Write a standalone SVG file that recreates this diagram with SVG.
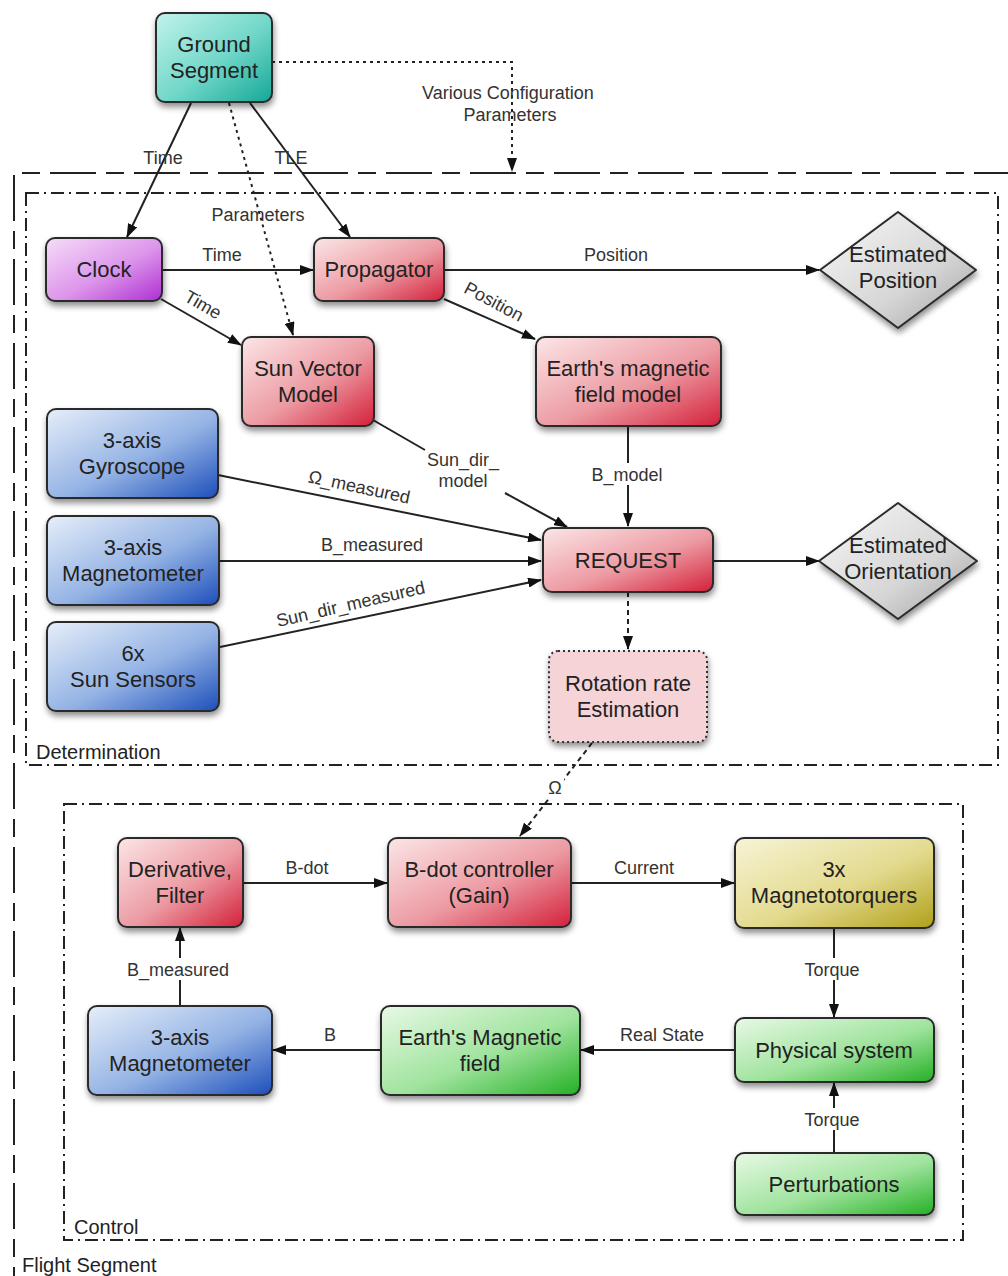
<svg xmlns="http://www.w3.org/2000/svg" width="1008" height="1276" viewBox="0 0 1008 1276">
<defs>
<linearGradient id="gTeal" x1="0" y1="0" x2="1" y2="1"><stop offset="0" stop-color="#c2f3ea"/><stop offset="0.55" stop-color="#6fd6c8"/><stop offset="1" stop-color="#14a896"/></linearGradient>
<linearGradient id="gPurple" x1="0" y1="0" x2="1" y2="1"><stop offset="0" stop-color="#f6ddf9"/><stop offset="0.55" stop-color="#dc94ea"/><stop offset="1" stop-color="#ae2fd2"/></linearGradient>
<linearGradient id="gRed" x1="0" y1="0" x2="1" y2="1"><stop offset="0" stop-color="#fbe6e7"/><stop offset="0.55" stop-color="#ec9aa2"/><stop offset="1" stop-color="#d4203a"/></linearGradient>
<linearGradient id="gBlue" x1="0" y1="0" x2="1" y2="1"><stop offset="0" stop-color="#e6eef9"/><stop offset="0.55" stop-color="#93b2e4"/><stop offset="1" stop-color="#1d4fbb"/></linearGradient>
<linearGradient id="gYellow" x1="0" y1="0" x2="1" y2="1"><stop offset="0" stop-color="#f7f4d6"/><stop offset="0.55" stop-color="#e3da8e"/><stop offset="1" stop-color="#b0a01a"/></linearGradient>
<linearGradient id="gGreen" x1="0" y1="0" x2="1" y2="1"><stop offset="0" stop-color="#e8f9e6"/><stop offset="0.55" stop-color="#9fe39d"/><stop offset="1" stop-color="#24b024"/></linearGradient>
<linearGradient id="gGrey" x1="0" y1="0" x2="1" y2="1"><stop offset="0" stop-color="#f7f7f7"/><stop offset="0.6" stop-color="#d6d6d6"/><stop offset="1" stop-color="#a0a0a0"/></linearGradient>
<filter id="shadow" x="-20%" y="-20%" width="150%" height="160%"><feDropShadow dx="1" dy="4" stdDeviation="3" flood-color="#000" flood-opacity="0.45"/></filter>
<marker id="arr" viewBox="0 0 14 10" refX="13" refY="5" markerWidth="14" markerHeight="10" markerUnits="userSpaceOnUse" orient="auto"><path d="M0,0 L14,5 L0,10 Z" fill="#111"/></marker>
<style>
.node{stroke:#2a2a2a;stroke-width:2}
.nt{font-family:"Liberation Sans",Arial,sans-serif;font-size:22px;fill:#222;text-anchor:middle}
.lb{font-family:"Liberation Sans",Arial,sans-serif;font-size:18px;fill:#333;text-anchor:middle}
.grp{font-family:"Liberation Sans",Arial,sans-serif;font-size:20px;fill:#222}
.c{stroke:#222;stroke-width:2;fill:none;marker-end:url(#arr)}
.dot{stroke-dasharray:3,4}
.dash{stroke-dasharray:5,4}
.dd{fill:none;stroke:#222;stroke-width:2;stroke-dasharray:13,5,2,5}
.bg{fill:#ffffff}
</style>
</defs>
<rect width="1008" height="1276" fill="#ffffff"/>

<g id="flight-segment">
<path d="M1020,173 L14,173 L14,1277 L1020,1277" fill="none" stroke="#222" stroke-width="2" stroke-dasharray="46,10,18,10"/>
<text class="grp" x="22" y="1272">Flight Segment</text>
</g>
<g id="determination">
<rect x="26" y="193" width="972" height="572" class="dd"/>
<text class="grp" x="36" y="759">Determination</text>
</g>
<g id="control">
<rect x="64" y="804" width="899" height="436" class="dd"/>
<text class="grp" x="74" y="1234">Control</text>
</g>

<g id="connectors">
<path class="c dot" d="M272,62 L512,62 L512,171"/>
<path class="c" d="M191,103 L127,237"/>
<path class="c" d="M250,103 L350,237"/>
<path class="c dot" d="M229,103 L293,335"/>
<path class="c" d="M162,270 L313,270"/>
<path class="c" d="M161,299 L241,345"/>
<path class="c" d="M444,270 L819,270"/>
<path class="c" d="M444,299 L535,339"/>
<path class="c" d="M628,426 L628,526"/>
<path class="c" d="M373,420 L425,450 M505,493 L567,527"/>
<path class="c" d="M218,475 L541,540"/>
<path class="c" d="M220,561 L541,561"/>
<path class="c" d="M220,647 L541,580"/>
<path class="c" d="M713,561 L819,561"/>
<path class="c dash" d="M628,592 L628,649"/>
<path class="c dash" d="M592,743 L520,836"/>
<path class="c" d="M243,883 L387,883"/>
<path class="c" d="M571,883 L734,883"/>
<path class="c" d="M834,928 L834,1017"/>
<path class="c" d="M735,1050 L581,1050"/>
<path class="c" d="M381,1050 L273,1050"/>
<path class="c" d="M180,1006 L180,928"/>
<path class="c" d="M834,1153 L834,1083"/>

<rect class="bg" x="594" y="463" width="66" height="22"/>
<rect class="bg" x="546" y="777" width="18" height="22"/>
<rect class="bg" x="802" y="958" width="62" height="22"/>
<rect class="bg" x="802" y="1108" width="62" height="22"/>
<rect class="bg" x="128" y="958" width="100" height="22"/>

<text class="lb" x="508" y="99">Various Configuration</text>
<text class="lb" x="510" y="121">Parameters</text>
<text class="lb" x="163" y="164">Time</text>
<text class="lb" x="291" y="164">TLE</text>
<text class="lb" x="258" y="221">Parameters</text>
<text class="lb" x="222" y="261">Time</text>
<text class="lb" transform="translate(200,310) rotate(30)">Time</text>
<text class="lb" x="616" y="261">Position</text>
<text class="lb" transform="translate(491,307) rotate(28)">Position</text>
<text class="lb" x="627" y="481">B_model</text>
<text class="lb" x="463" y="466">Sun_dir_</text>
<text class="lb" x="463" y="487">model</text>
<text class="lb" transform="translate(358,493) rotate(12)">Ω_measured</text>
<text class="lb" x="372" y="551">B_measured</text>
<text class="lb" transform="translate(352,610) rotate(-13)">Sun_dir_measured</text>
<text class="lb" x="555" y="794">Ω</text>
<text class="lb" x="307" y="874">B-dot</text>
<text class="lb" x="644" y="874">Current</text>
<text class="lb" x="832" y="976">Torque</text>
<text class="lb" x="662" y="1041">Real State</text>
<text class="lb" x="330" y="1041">B</text>
<text class="lb" x="178" y="976">B_measured</text>
<text class="lb" x="832" y="1126">Torque</text>
</g>

<g id="ground-segment"><rect class="node" x="156" y="13" width="116" height="89" rx="9" fill="url(#gTeal)" filter="url(#shadow)"/><text class="nt" x="214" y="52">Ground</text><text class="nt" x="214" y="78">Segment</text></g>
<g id="clock"><rect class="node" x="46" y="238" width="116" height="63" rx="9" fill="url(#gPurple)" filter="url(#shadow)"/><text class="nt" x="104" y="277">Clock</text></g>
<g id="propagator"><rect class="node" x="314" y="238" width="130" height="63" rx="9" fill="url(#gRed)" filter="url(#shadow)"/><text class="nt" x="379" y="277">Propagator</text></g>
<g id="estimated-position"><path class="node" d="M898,212 L976,270 L898,328 L820,270 Z" stroke-linejoin="round" fill="url(#gGrey)" filter="url(#shadow)"/><text class="nt" x="898" y="262">Estimated</text><text class="nt" x="898" y="288">Position</text></g>
<g id="sun-vector-model"><rect class="node" x="242" y="337" width="132" height="89" rx="9" fill="url(#gRed)" filter="url(#shadow)"/><text class="nt" x="308" y="376">Sun Vector</text><text class="nt" x="308" y="402">Model</text></g>
<g id="earth-magnetic-field-model"><rect class="node" x="536" y="337" width="185" height="89" rx="9" fill="url(#gRed)" filter="url(#shadow)"/><text class="nt" x="628" y="376">Earth's magnetic</text><text class="nt" x="628" y="402">field model</text></g>
<g id="gyroscope"><rect class="node" x="47" y="409" width="171" height="89" rx="9" fill="url(#gBlue)" filter="url(#shadow)"/><text class="nt" x="132" y="448">3-axis</text><text class="nt" x="132" y="474">Gyroscope</text></g>
<g id="magnetometer-det"><rect class="node" x="47" y="516" width="172" height="89" rx="9" fill="url(#gBlue)" filter="url(#shadow)"/><text class="nt" x="133" y="555">3-axis</text><text class="nt" x="133" y="581">Magnetometer</text></g>
<g id="sun-sensors"><rect class="node" x="47" y="622" width="172" height="89" rx="9" fill="url(#gBlue)" filter="url(#shadow)"/><text class="nt" x="133" y="661">6x</text><text class="nt" x="133" y="687">Sun Sensors</text></g>
<g id="request"><rect class="node" x="543" y="528" width="170" height="64" rx="9" fill="url(#gRed)" filter="url(#shadow)"/><text class="nt" x="628" y="568">REQUEST</text></g>
<g id="estimated-orientation"><path class="node" d="M898,503 L977,561 L898,619 L819,561 Z" stroke-linejoin="round" fill="url(#gGrey)" filter="url(#shadow)"/><text class="nt" x="898" y="553">Estimated</text><text class="nt" x="898" y="579">Orientation</text></g>
<g id="rotation-rate"><rect x="549" y="651" width="158" height="91" rx="9" fill="#f6d3d7" stroke="#333" stroke-width="2" stroke-dasharray="2,3" filter="url(#shadow)"/><text class="nt" x="628" y="691">Rotation rate</text><text class="nt" x="628" y="717">Estimation</text></g>

<g id="derivative-filter"><rect class="node" x="118" y="838" width="125" height="89" rx="9" fill="url(#gRed)" filter="url(#shadow)"/><text class="nt" x="180" y="877">Derivative,</text><text class="nt" x="180" y="903">Filter</text></g>
<g id="bdot-controller"><rect class="node" x="388" y="838" width="183" height="89" rx="9" fill="url(#gRed)" filter="url(#shadow)"/><text class="nt" x="479" y="877">B-dot controller</text><text class="nt" x="479" y="903">(Gain)</text></g>
<g id="magnetotorquers"><rect class="node" x="735" y="838" width="199" height="90" rx="9" fill="url(#gYellow)" filter="url(#shadow)"/><text class="nt" x="834" y="877">3x</text><text class="nt" x="834" y="903">Magnetotorquers</text></g>
<g id="magnetometer-ctrl"><rect class="node" x="88" y="1006" width="184" height="89" rx="9" fill="url(#gBlue)" filter="url(#shadow)"/><text class="nt" x="180" y="1045">3-axis</text><text class="nt" x="180" y="1071">Magnetometer</text></g>
<g id="earth-magnetic-field"><rect class="node" x="381" y="1006" width="199" height="89" rx="9" fill="url(#gGreen)" filter="url(#shadow)"/><text class="nt" x="480" y="1045">Earth's Magnetic</text><text class="nt" x="480" y="1071">field</text></g>
<g id="physical-system"><rect class="node" x="735" y="1018" width="199" height="64" rx="9" fill="url(#gGreen)" filter="url(#shadow)"/><text class="nt" x="834" y="1058">Physical system</text></g>
<g id="perturbations"><rect class="node" x="735" y="1153" width="199" height="62" rx="9" fill="url(#gGreen)" filter="url(#shadow)"/><text class="nt" x="834" y="1192">Perturbations</text></g>
</svg>
